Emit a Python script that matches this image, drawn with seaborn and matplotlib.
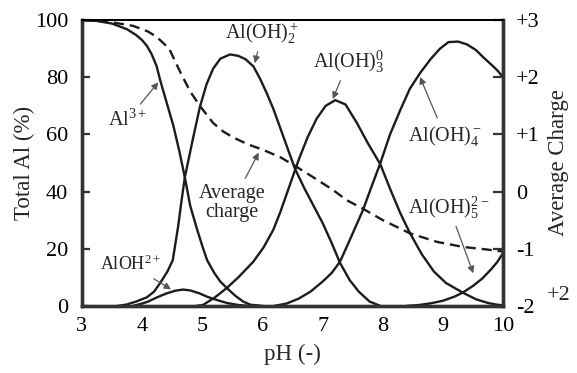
import matplotlib
matplotlib.use('Agg')
import matplotlib.pyplot as plt
import seaborn as sns

# species distribution (% of total Al)
ph_al3 = [3.0, 3.25, 3.5, 3.75, 3.9, 4.0, 4.08, 4.16, 4.24, 4.3, 4.41, 4.52, 4.62, 4.71,
          4.8, 4.91, 5.0, 5.08, 5.2, 5.3, 5.41, 5.55, 5.68, 5.8, 6.0]
al3 = [100, 99.7, 98.8, 96.8, 94.8, 93, 91, 88, 84, 79, 71, 63, 54, 45,
       35, 27, 21, 16, 11.5, 8.5, 6.2, 3.5, 1.5, 0.4, 0]

ph_aloh = [3.85, 4.0, 4.1, 4.25, 4.4, 4.55, 4.68, 4.8, 4.95, 5.08, 5.25, 5.41, 5.6, 5.75]
aloh = [0, 0.8, 1.5, 3, 4.3, 5.3, 5.7, 5.4, 4.4, 3.2, 2, 1, 0.3, 0]

ph_oh2 = [3.6, 3.75, 3.9, 4.08, 4.2, 4.3, 4.42, 4.51, 4.6, 4.65, 4.71, 4.78, 4.85, 4.96,
          5.07, 5.18, 5.3, 5.46, 5.6, 5.72, 5.85, 5.96, 6.07, 6.18, 6.29, 6.42, 6.54,
          6.7, 6.85, 7.0, 7.15, 7.29, 7.45, 7.6, 7.78, 7.96]
oh2 = [0, 0.5, 1.5, 3, 5, 8, 12, 16, 28, 36, 45, 52, 59, 69.6,
       77.5, 83, 86.5, 88, 87.5, 86.3, 83.8, 79.5, 74.5, 69, 62.6, 55, 48,
       41, 35, 29, 22, 15, 9, 5, 1.5, 0]

ph_oh3 = [4.9, 5.01, 5.2, 5.41, 5.6, 5.85, 6.02, 6.18, 6.3, 6.45, 6.6, 6.75, 6.9, 7.05,
          7.21, 7.38, 7.57, 7.75, 7.96, 8.12, 8.29, 8.45, 8.65, 8.85, 9.05, 9.34, 9.55,
          9.75, 9.9, 10.0]
oh3 = [0, 0.3, 2.8, 6.3, 10, 15.5, 20.5, 26.6, 33, 42, 51, 59, 65.5, 70,
       72, 70.5, 64, 57, 49.5, 41, 32.5, 25.5, 18, 12, 8, 4.5, 2.3,
       1, 0.4, 0.2]

ph_oh4 = [6.2, 6.4, 6.6, 6.8, 7.0, 7.15, 7.29, 7.45, 7.67, 7.8, 7.96, 8.12, 8.29, 8.45,
          8.62, 8.8, 8.95, 9.09, 9.25, 9.4, 9.55, 9.67, 9.8, 9.9, 10.0]
oh4 = [0, 0.8, 2.5, 5, 8.5, 11.5, 15.5, 23, 33.5, 41, 50, 60, 68.5, 76,
       81.5, 86.5, 90, 92.3, 92.5, 91.5, 89.5, 87, 84.5, 82.5, 80]

ph_oh5 = [8.4, 8.6, 8.8, 9.0, 9.2, 9.34, 9.5, 9.65, 9.8, 9.9, 10.0]
oh5 = [0, 0.3, 0.9, 1.8, 3.3, 4.8, 7, 9.5, 12.8, 15.3, 18.5]

# average charge (right axis)
ph_charge = [3.0, 3.4, 3.85, 4.1, 4.25, 4.45, 4.63, 4.8, 4.96, 5.18, 5.35, 5.51, 5.75,
             6.01, 6.3, 6.54, 6.8, 7.17, 7.4, 7.67, 8.0, 8.45, 8.9, 9.34, 9.7, 10.0]
charge = [3.0, 2.98, 2.9, 2.8, 2.7, 2.5, 2.1, 1.75, 1.5, 1.2, 1.05, 0.95, 0.83,
          0.73, 0.6, 0.45, 0.28, 0.03, -0.15, -0.3, -0.5, -0.73, -0.88, -0.97, -1.01, -1.05]

x_ticks = [3, 4, 5, 6, 7, 8, 9, 10]
y_ticks = [0, 20, 40, 60, 80, 100]
charge_ticks = [3, 2, 1, 0, -1, -2]
charge_labels = ['+3', '+2', '+1', '0', '-1', '-2']

sns.set_style('white')
plt.rcParams['font.family'] = ['Liberation Serif', 'DejaVu Serif']
plt.rcParams['mathtext.fontset'] = 'custom'
plt.rcParams['mathtext.rm'] = 'Liberation Serif'
plt.rcParams['mathtext.it'] = 'Liberation Serif'

fig = plt.figure(figsize=(5.77, 3.73), dpi=100)
ax = fig.add_axes([0.142, 0.180, 0.730, 0.766])
ax2 = ax.twinx()

line_c = '#1c1c1c'
for xs, ys in [(ph_al3, al3), (ph_aloh, aloh), (ph_oh2, oh2), (ph_oh3, oh3),
               (ph_oh4, oh4), (ph_oh5, oh5)]:
    sns.lineplot(x=xs, y=ys, ax=ax, color=line_c, lw=1.7, sort=False, estimator=None)

sns.lineplot(x=ph_charge, y=charge, ax=ax2, color=line_c, lw=1.7, sort=False, estimator=None)
ax2.lines[-1].set_linestyle((0, (4.3, 2.5)))

ax.set_xlim(3, 10)
ax.set_ylim(0, 100)
ax2.set_ylim(-2, 3)

ax.set_xticks(x_ticks)
ax.set_yticks(y_ticks)
ax2.set_yticks(charge_ticks)
ax2.set_yticklabels(charge_labels)

ax.tick_params(axis='x', direction='in', length=6, width=1.6, labelsize=16,
               colors='#333333', labelcolor='black', pad=8)
ax.tick_params(axis='y', direction='in', length=6, width=1.6, labelsize=16,
               colors='#333333', labelcolor='black', pad=10)
ax2.tick_params(axis='y', direction='in', length=7, width=1.6, labelsize=16,
                colors='#333333', labelcolor='black', pad=9)

for a in (ax, ax2):
    for side in ('left', 'bottom', 'right'):
        a.spines[side].set_linewidth(2.4)
        a.spines[side].set_color('#333333')
    a.spines['top'].set_linewidth(1.4)
    a.spines['top'].set_color('black')

ax.set_xlabel('pH (-)', fontsize=16.5, labelpad=6)
ax.set_ylabel('Total Al (%)', fontsize=16.5, labelpad=0)
ax2.set_ylabel('Average Charge', fontsize=16.5, labelpad=6)

arrow = dict(arrowstyle='-|>', color='#555555', lw=0.9, mutation_scale=10)
fs = 14.5
ax.annotate(r'Al$^{3+}$', xy=(4.3, 79), xytext=(3.75, 65), fontsize=fs,
            ha='center', va='center', arrowprops=arrow)
ax.annotate(r'Al(OH)$_2^+$', xy=(5.86, 84), xytext=(6.0, 95.5), fontsize=fs,
            ha='center', va='center', arrowprops=arrow)
ax.annotate(r'Al(OH)$_3^0$', xy=(7.15, 71.5), xytext=(7.43, 85.5), fontsize=fs,
            ha='center', va='center', arrowprops=arrow)
ax.annotate(r'Al(OH)$_4^-$', xy=(8.6, 81), xytext=(9.03, 59.5), fontsize=fs,
            ha='center', va='center', arrowprops=arrow)
ax.annotate('Average\ncharge', xy=(5.96, 54.5), xytext=(5.5, 36), fontsize=fs,
            ha='center', va='center', linespacing=1.0, arrowprops=arrow)
ax.annotate(r'AlOH$^{2+}$', xy=(4.52, 5.3), xytext=(3.8, 14.5), fontsize=13,
            ha='center', va='center', arrowprops=arrow)
ax.annotate(r'Al(OH)$_5^{2-}$', xy=(9.52, 10.5), xytext=(9.1, 34.5), fontsize=fs,
            ha='center', va='center', arrowprops=arrow)

fig.text(0.969, 0.209, '+2', fontsize=16, ha='center', va='center')

fig.savefig('out.png', dpi=100)
